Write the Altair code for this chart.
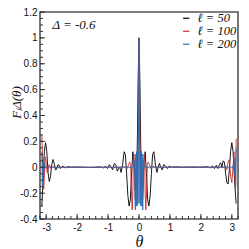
import altair as alt
import pandas as pd

# ---------------- data ----------------
labels = ["ℓ = 50", "ℓ = 100", "ℓ = 200"]
colors = ["#000000", "#cc2a2a", "#2a6db5"]

theta_50 = [-3.1416, -3.10, -3.06, -3.02, -2.98, -2.94, -2.90, -2.86, -2.82, -2.78,
            -2.74, -2.70, -2.66, -2.62, -2.58, -2.54, -2.50, -2.46, -2.42, -2.36,
            -2.30, -2.20, -2.00, -1.80, -1.60, -1.40, -1.25, -1.15, -1.08, -1.02,
            -0.96, -0.90, -0.85, -0.80, -0.75, -0.70, -0.66, -0.62, -0.58, -0.53,
            -0.48, -0.44, -0.40, -0.36, -0.32, -0.28, -0.24, -0.20, -0.16, -0.12,
            -0.08, -0.05, -0.03, 0.0, 0.03, 0.05, 0.08, 0.12, 0.16, 0.20,
            0.24, 0.28, 0.32, 0.36, 0.40, 0.44, 0.48, 0.53, 0.58, 0.62,
            0.66, 0.70, 0.75, 0.80, 0.86, 0.92, 0.98, 1.05, 1.20, 1.40,
            1.70, 2.00, 2.20, 2.30, 2.38, 2.44, 2.50, 2.55, 2.60, 2.64,
            2.68, 2.72, 2.76, 2.80, 2.84, 2.88, 2.92, 2.96, 3.00, 3.04,
            3.08, 3.12, 3.1416]
f_50 = [-0.30, -0.10, 0.12, 0.19, 0.12, -0.04, -0.11, -0.07, 0.02, 0.06,
        0.03, -0.02, -0.015, 0.02, 0.015, -0.01, 0.0, 0.01, 0.0, -0.005,
        0.005, 0.0, 0.002, 0.0, -0.002, 0.0, 0.003, -0.005, 0.008, -0.01,
        0.02, 0.0, -0.02, 0.03, 0.02, -0.03, -0.01, 0.0, -0.04, 0.02,
        0.12, 0.10, -0.05, -0.22, -0.30, -0.25, -0.05, 0.12, 0.05, -0.18,
        -0.12, 0.25, 0.65, 1.0, 0.65, 0.25, -0.12, -0.18, 0.05, 0.12,
        -0.05, -0.25, -0.30, -0.22, -0.05, 0.10, 0.12, 0.02, -0.04, 0.0,
        0.03, 0.0, -0.02, 0.02, 0.01, -0.01, 0.01, 0.0, 0.003, 0.0,
        0.002, 0.0, 0.004, -0.005, 0.01, -0.01, 0.015, -0.01, 0.02, 0.035,
        0.0, 0.05, 0.04, -0.05, -0.12, -0.13, -0.02, 0.12, 0.19, 0.12,
        -0.05, -0.22, -0.28]

theta_100 = [-3.1416, -3.12, -3.10, -3.08, -3.06, -3.04, -3.02, -3.00, -2.97, -2.94,
             -2.91, -2.88, -2.84, -2.80, -2.70, -2.50, -1.50, -0.60, -0.45, -0.38,
             -0.34, -0.30, -0.27, -0.25, -0.22, -0.20, -0.18, -0.16, -0.14, -0.12,
             -0.10, -0.08, -0.06, -0.045, -0.03, -0.015, 0.0, 0.015, 0.03, 0.045,
             0.06, 0.08, 0.10, 0.12, 0.14, 0.16, 0.18, 0.20, 0.22, 0.25,
             0.27, 0.30, 0.34, 0.38, 0.45, 0.60, 1.50, 2.50, 2.75, 2.80,
             2.84, 2.88, 2.92, 2.96, 3.00, 3.04, 3.07, 3.10, 3.12, 3.1416]
f_100 = [0.25, 0.10, -0.10, -0.17, -0.08, 0.06, 0.08, 0.02, -0.04, -0.02,
         0.02, 0.01, -0.01, 0.005, 0.0, 0.0, 0.0, 0.0, 0.005, -0.01,
         0.02, 0.04, 0.02, -0.15, -0.33, -0.20, 0.08, 0.10, -0.15, -0.25,
         -0.05, 0.12, 0.0, -0.25, 0.10, 0.65, 1.0, 0.65, 0.10, -0.25,
         0.0, 0.12, -0.05, -0.25, -0.15, 0.10, 0.08, -0.20, -0.33, -0.15,
         0.02, 0.04, 0.02, -0.01, 0.005, 0.0, 0.0, 0.0, 0.0, 0.01,
         -0.02, 0.04, 0.06, -0.06, -0.12, 0.0, 0.12, -0.05, -0.18, 0.22]

theta_200 = [-3.1416, -3.132, -3.124, -3.115, -3.105, -3.095, -3.085, -3.07, -3.055, -3.04,
             -3.02, -2.98, -2.00, -1.00, -0.20, -0.17, -0.15, -0.135, -0.12, -0.105,
             -0.09, -0.075, -0.06, -0.045, -0.03, -0.02, -0.01, 0.0, 0.01, 0.02,
             0.03, 0.045, 0.06, 0.075, 0.09, 0.105, 0.12, 0.135, 0.15, 0.17,
             0.20, 1.00, 2.00, 2.98, 3.02, 3.04, 3.055, 3.07, 3.085, 3.095,
             3.105, 3.115, 3.124, 3.132, 3.1416]
f_200 = [0.12, -0.02, -0.14, -0.05, 0.07, 0.02, -0.06, 0.0, 0.03, -0.01,
         0.005, 0.0, 0.0, 0.0, 0.0, 0.01, 0.05, -0.10, -0.33, 0.10,
         -0.30, 0.12, -0.30, 0.12, -0.28, 0.05, 0.60, 1.0, 0.60, 0.05,
         -0.28, 0.12, -0.30, 0.12, -0.30, 0.10, -0.33, -0.10, 0.05, 0.01,
         0.0, 0.0, 0.0, 0.0, 0.005, -0.01, 0.03, 0.0, -0.06, 0.02,
         0.07, -0.05, -0.14, -0.02, 0.15]

x_major = [-3, -2, -1, 0, 1, 2, 3]
x_minor = [round(-3.2 + 0.2 * i, 2) for i in range(33)]
y_major = [-0.4, -0.2, 0, 0.2, 0.4, 0.6, 0.8, 1.0, 1.2]
y_minor = [round(-0.4 + 0.05 * i, 2) for i in range(33)]

annot_text = ["Δ = -0.6"]
annot_theta = [-2.8]
annot_f = [1.1]

# ---------------- build tables ----------------
rows = []
for lab, th, fv in zip(labels, [theta_50, theta_100, theta_200], [f_50, f_100, f_200]):
    for t, v in zip(th, fv):
        rows.append({"theta": t, "F": v, "series": lab})
df = pd.DataFrame(rows)

W, H = 198, 207
x_scale = alt.Scale(domain=[-3.2, 3.2], nice=False, zero=False)
y_scale = alt.Scale(domain=[-0.4, 1.2], nice=False, zero=False)
color_scale = alt.Scale(domain=labels, range=colors)

fix_minus = "replace(format(datum.value, '~g'), '\u2212', '-')"
Y_TITLE = "Fₗ\u0394(θ)"

x_axis = alt.Axis(values=x_major, ticks=False, domain=False, grid=False,
                  labelFont="Liberation Sans", labelFontSize=10, labelColor="#111",
                  labelPadding=3, labelExpr=fix_minus,
                  title="θ", titleFont="Liberation Serif", titleFontStyle="italic",
                  titleFontWeight="normal", titleFontSize=16, titleColor="#111",
                  titleY=27, titleBaseline="alphabetic")
y_axis = alt.Axis(values=y_major, ticks=False, domain=False, grid=False,
                  labelFont="Liberation Sans", labelFontSize=10, labelColor="#111",
                  labelPadding=3, labelExpr=fix_minus,
                  title=Y_TITLE, titleFont="Liberation Serif", titleFontStyle="italic",
                  titleFontWeight="normal", titleFontSize=13, titleColor="#111",
                  titleAngle=-90, titleX=-20, titleY=90, titleBaseline="alphabetic")

legend = alt.Legend(title=None, orient="none", legendX=140, legendY=0,
                    symbolType="stroke", symbolSize=40, symbolStrokeWidth=1.2,
                    labelFont="Liberation Serif", labelFontStyle="italic",
                    labelFontSize=12.5, labelColor="#111", rowPadding=-1, padding=0,
                    labelOffset=5)

layers = []
for i, lab in enumerate(labels):
    layers.append(
        alt.Chart(df).transform_filter(alt.datum.series == lab)
        .mark_line(strokeWidth=0.9, clip=True)
        .encode(
            x=alt.X("theta:Q", scale=x_scale, axis=x_axis, title="θ"),
            y=alt.Y("F:Q", scale=y_scale, axis=y_axis, title=Y_TITLE),
            color=alt.Color("series:N", scale=color_scale, legend=legend),
        )
    )

def yrule(vals, length):
    return alt.Chart(pd.DataFrame({"F": vals})).mark_rule(color="#333", strokeWidth=1).encode(
        y=alt.Y("F:Q", scale=y_scale, axis=y_axis, title=Y_TITLE),
        x=alt.value(0), x2=alt.value(length))

def xrule(vals, length):
    return alt.Chart(pd.DataFrame({"theta": vals})).mark_rule(color="#333", strokeWidth=1).encode(
        x=alt.X("theta:Q", scale=x_scale, axis=x_axis, title="θ"),
        y=alt.value(H), y2=alt.value(H - length))

annot = alt.Chart(pd.DataFrame({"theta": annot_theta, "F": annot_f, "t": annot_text})).mark_text(
    align="left", baseline="middle", font="Liberation Serif", fontStyle="italic",
    fontSize=13, color="#111").encode(
    x=alt.X("theta:Q", scale=x_scale, axis=x_axis, title="θ"),
    y=alt.Y("F:Q", scale=y_scale, axis=y_axis, title=Y_TITLE), text="t:N")

chart = alt.layer(*layers, yrule(y_minor, 3), yrule(y_major, 5),
                  xrule(x_minor, 3), xrule(x_major, 5), annot).properties(
    width=W, height=H,
    autosize=alt.AutoSizeParams(type="none"),
    padding={"left": 32, "top": 4, "right": 3, "bottom": 30},
    background="white",
).configure_view(stroke="#555555", strokeWidth=1.6)

chart.save("out.html", embed_options={"renderer": "svg", "actions": False})
